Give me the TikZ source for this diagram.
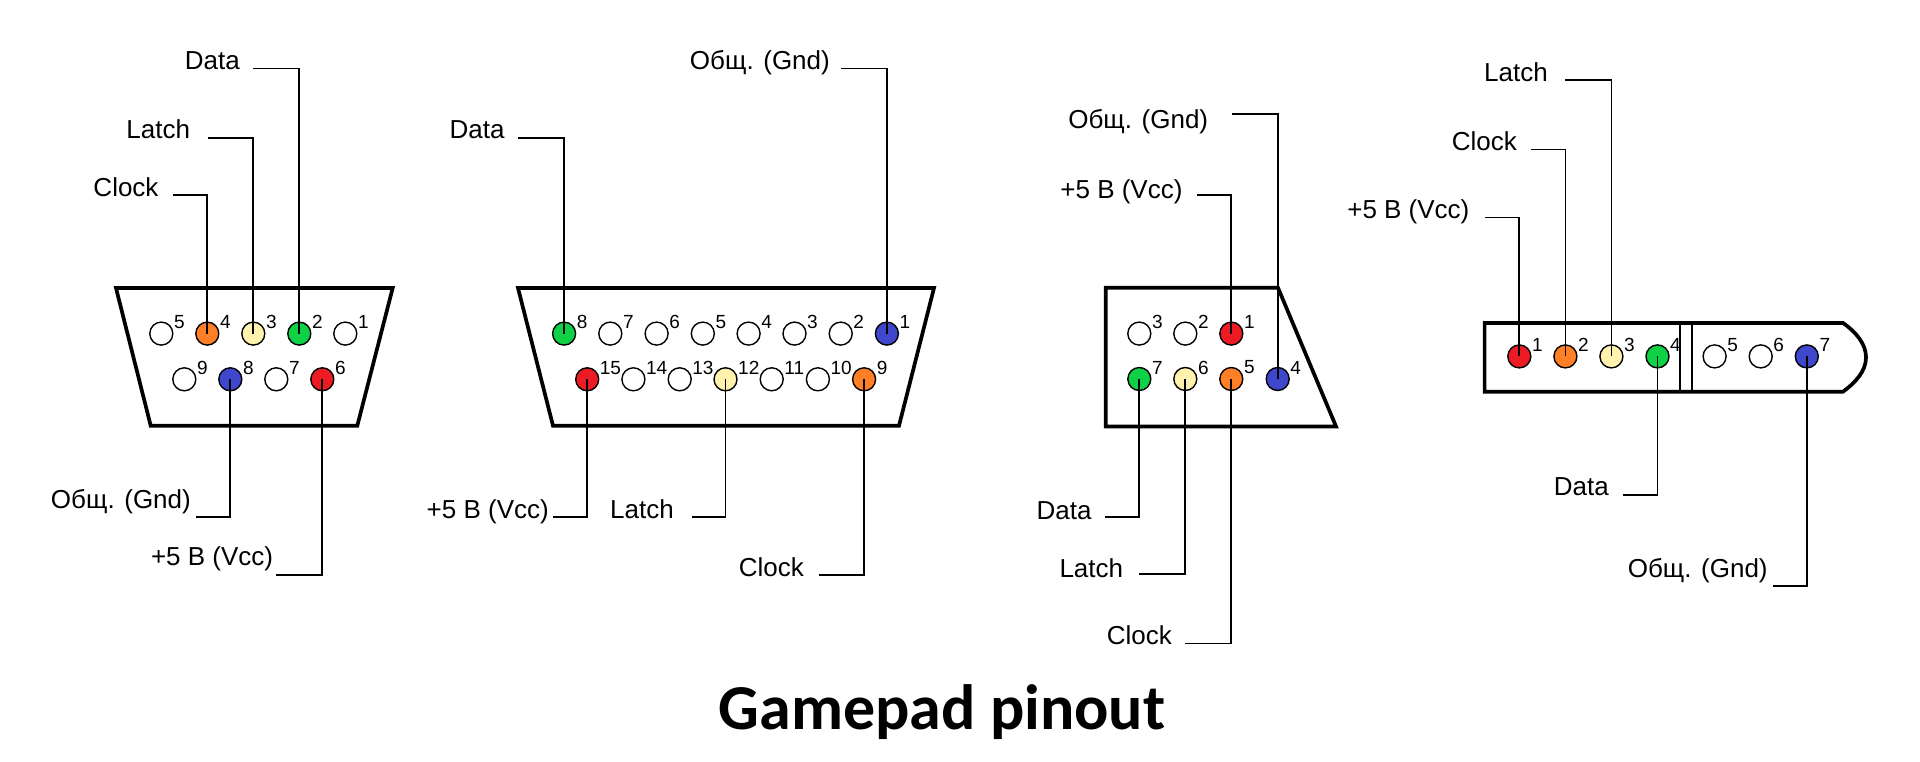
\documentclass[tikz,border=0pt]{standalone}
\usepackage{fontspec}
\setmainfont{Liberation Sans}
\newfontfamily\titlefont{Carlito}
\definecolor{pinorange}{HTML}{FF7F27}
\definecolor{pincream}{HTML}{FFF2AE}
\definecolor{pingreen}{HTML}{0ED145}
\definecolor{pinblue}{HTML}{3F48CC}
\definecolor{pinred}{HTML}{ED1C24}
\tikzset{
  body/.style={draw=black,line width=3.7pt,fill=white,line join=miter},
  divider/.style={draw=black,line width=1.6pt},
  leader/.style={draw=black,line width=1.8pt,line cap=butt},
  pinhole/.style={circle,draw=black,line width=1.4pt,minimum size=23pt,inner sep=0pt},
  pinnum/.style={anchor=west,inner sep=0pt,font=\fontsize{19}{19}\selectfont},
  lab/.style={anchor=base east,inner sep=0pt,xshift=1pt,yshift=-1pt,font=\fontsize{26}{26}\selectfont},
  ttl/.style={anchor=base,inner sep=0pt,font=\titlefont\bfseries\fontsize{64}{64}\selectfont}
}
\newcommand{\pinat}[5]{%
  \node[pinhole,fill=#4] (#1) at (#2,#3) {};
  \path (#2,#3) ++(12.5,-11.5) node[pinnum] (#1n) {#5};
}
\newcommand{\leadlab}[6]{%
  \node[lab] (#1) at (#2,#3) {#4};
  \coordinate (#1s) at (#5,#6);
}
\begin{document}
\begin{tikzpicture}[x=1pt,y=-1pt]
\useasboundingbox[fill=white] (0,0) rectangle (1920,762);

% connector 1 (DE-9)
\path[body] (116,288) -- (392.7,288) -- (357.3,425.7) -- (150.7,425.7) -- cycle;
\pinat{aI}{345.3}{333.6}{white}{1}
\pinat{aII}{299.3}{333.6}{pingreen}{2}
\pinat{aIII}{253.3}{333.6}{pincream}{3}
\pinat{aIV}{207.3}{333.6}{pinorange}{4}
\pinat{aV}{161.3}{333.6}{white}{5}
\pinat{aVI}{322.3}{379.3}{pinred}{6}
\pinat{aVII}{276.3}{379.3}{white}{7}
\pinat{aVIII}{230.3}{379.3}{pinblue}{8}
\pinat{aIX}{184.3}{379.3}{white}{9}
\leadlab{aData}{239}{68.6}{Data}{253.3}{68.6}
\leadlab{aLatch}{189.3}{137.9}{Latch}{207.7}{137.9}
\leadlab{aClock}{157.7}{195.4}{Clock}{172.7}{195.4}
\leadlab{aGnd}{190}{507.9}{Общ. (Gnd)}{196}{516.8}
\leadlab{aVcc}{272.3}{564.6}{+5 В (Vcc)}{276}{574.6}
\draw[leader] (aDatas) -| (aII.center);
\draw[leader] (aLatchs) -| (aIII.center);
\draw[leader] (aClocks) -| (aIV.center);
\draw[leader] (aGnds) -| (aVIII.center);
\draw[leader] (aVccs) -| (aVI.center);

% connector 2 (DA-15)
\path[body] (518,288) -- (934,288) -- (899,425.7) -- (553,425.7) -- cycle;
\pinat{bI}{886.9}{333.6}{pinblue}{1}
\pinat{bII}{840.7}{333.6}{white}{2}
\pinat{bIII}{794.5}{333.6}{white}{3}
\pinat{bIV}{748.6}{333.6}{white}{4}
\pinat{bV}{702.8}{333.6}{white}{5}
\pinat{bVI}{656.6}{333.6}{white}{6}
\pinat{bVII}{610.3}{333.6}{white}{7}
\pinat{bVIII}{564.1}{333.6}{pingreen}{8}
\pinat{bIX}{864.1}{379.3}{pinorange}{9}
\pinat{bX}{817.9}{379.3}{white}{10}
\pinat{bXI}{771.7}{379.3}{white}{11}
\pinat{bXII}{725.5}{379.3}{pincream}{12}
\pinat{bXIII}{679.7}{379.3}{white}{13}
\pinat{bXIV}{633.4}{379.3}{white}{14}
\pinat{bXV}{587.2}{379.3}{pinred}{15}
\leadlab{bGnd}{829}{69}{Общ. (Gnd)}{841}{68.6}
\leadlab{bData}{503.8}{138}{Data}{518}{137.9}
\leadlab{bVcc}{548}{517}{+5 В (Vcc)}{553}{516.8}
\leadlab{bLatch}{673}{517}{Latch}{691.7}{516.8}
\leadlab{bClock}{803}{575}{Clock}{818.6}{574.6}
\draw[leader] (bGnds) -| (bI.center);
\draw[leader] (bDatas) -| (bVIII.center);
\draw[leader] (bVccs) -| (bXV.center);
\draw[leader] (bLatchs) -| (bXII.center);
\draw[leader] (bClocks) -| (bIX.center);

% connector 3
\path[body] (1105.7,287.8) -- (1278,287.8) -- (1336,426.4) -- (1105.7,426.4) -- cycle;
\pinat{cI}{1231.3}{333.6}{pinred}{1}
\pinat{cII}{1185.3}{333.6}{white}{2}
\pinat{cIII}{1139.3}{333.6}{white}{3}
\pinat{cIV}{1277.7}{379}{pinblue}{4}
\pinat{cV}{1231.3}{379}{pinorange}{5}
\pinat{cVI}{1185.3}{379}{pincream}{6}
\pinat{cVII}{1139.3}{379}{pingreen}{7}
\leadlab{cGnd}{1207.3}{127.3}{Общ. (Gnd)}{1232}{114.4}
\leadlab{cVcc}{1181.7}{197.6}{+5 В (Vcc)}{1197.3}{195.3}
\leadlab{cData}{1090.7}{518}{Data}{1105}{517}
\leadlab{cLatch}{1122.3}{576}{Latch}{1139.3}{574.3}
\leadlab{cClock}{1171}{643.8}{Clock}{1185}{643.4}
\draw[leader] (cGnds) -| (cIV.center);
\draw[leader] (cVccs) -| (cI.center);
\draw[leader] (cDatas) -| (cVII.center);
\draw[leader] (cLatchs) -| (cVI.center);
\draw[leader] (cClocks) -| (cV.center);

% connector 4
\path[body] (1484.6,322.9) -- (1842.9,322.9) .. controls (1856,332) and (1866,344) .. (1866,357.3) .. controls (1866,371) and (1856,382) .. (1842.9,391.8) -- (1484.6,391.8) -- cycle;
\draw[divider] (1680,322.9) -- (1680,391.8);
\draw[divider] (1691.8,322.9) -- (1691.8,391.8);
\pinat{dI}{1519.3}{356.4}{pinred}{1}
\pinat{dII}{1565.4}{356.4}{pinorange}{2}
\pinat{dIII}{1611.4}{356.4}{pincream}{3}
\pinat{dIV}{1657.5}{356.4}{pingreen}{4}
\pinat{dV}{1714.6}{356.4}{white}{5}
\pinat{dVI}{1760.7}{356.4}{white}{6}
\pinat{dVII}{1806.8}{356.4}{pinblue}{7}
\leadlab{dLatch}{1547}{81}{Latch}{1565.4}{80.4}
\leadlab{dClock}{1516}{150}{Clock}{1531.4}{149.6}
\leadlab{dVcc}{1468.6}{217.9}{+5 В (Vcc)}{1484.6}{217.5}
\leadlab{dData}{1607.9}{494.6}{Data}{1623}{494.6}
\leadlab{dGnd}{1766.8}{576.8}{Общ. (Gnd)}{1773}{586}
\draw[leader] (dLatchs) -| (dIII.center);
\draw[leader] (dClocks) -| (dII.center);
\draw[leader] (dVccs) -| (dI.center);
\draw[leader] (dDatas) -| (dIV.center);
\draw[leader] (dGnds) -| (dVII.center);

\node[ttl] (title) at (942,729.6) {Gamepad pinout};
\end{tikzpicture}
\end{document}
